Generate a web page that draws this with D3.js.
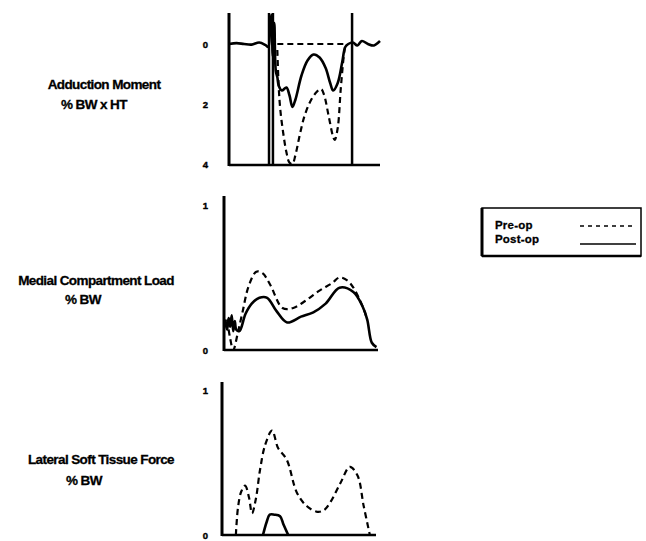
<!DOCTYPE html>
<html>
<head>
  <meta charset="utf-8">
  <script src="https://cdn.jsdelivr.net/npm/d3@7/dist/d3.min.js"></script>
  <style>
    body { margin: 0; background: #fff; }
    text { font-family: "Liberation Sans", Arial, sans-serif; font-weight: bold; fill: #000; }
  </style>
</head>
<body>
  <svg width="646" height="541" id="mainsvg"></svg>
  <script>
    // ---- data (x = % of stance) ----
    // adduction moment, % BW x HT (positive plotted downward)
    const momentPostX = [0, 5, 10, 15, 20, 24, 26, 27, 28, 29, 30, 31, 32, 33, 35, 38, 40, 42, 44, 48, 52, 56, 60, 64, 67, 69, 72, 75, 77, 79, 82, 85, 88, 92, 96, 100];
    const momentPostY = [0, -0.03, 0, 0.02, -0.05, 0.03, 0.1, -0.5, -0.97, 0.4, -0.7, 0.9, 1.1, 1.4, 1.55, 1.45, 1.7, 2.1, 1.85, 1.05, 0.55, 0.35, 0.45, 0.8, 1.3, 1.55, 1.3, 0.6, 0.1, 0.0, -0.05, 0.05, -0.1, 0.0, 0.05, -0.1];
    const momentPreX = [32, 33, 34, 36, 38, 40, 42, 44, 47, 50, 54, 58, 61, 63, 66, 69, 70, 72, 74, 76, 77];
    const momentPreY = [0.2, 1.5, 2.2, 3.0, 3.6, 3.95, 4.0, 3.7, 3.0, 2.4, 1.9, 1.6, 1.5, 1.7, 2.4, 3.1, 3.2, 2.8, 1.5, 0.4, 0.05];
    const momentPreZeroX = [32, 77];
    const momentPreZeroY = [0, 0];
    const momentEvents = [26.5, 29.1, 81.5];
    const momentTicks = [0, 2, 4];

    // medial compartment load, % BW
    const medialPostX = [0.6, 2, 3, 4, 5, 6, 7, 8, 10, 14, 18, 23, 28, 34, 41, 50, 58, 66, 75, 84, 90, 93, 96, 99];
    const medialPostY = [0.21, 0.14, 0.22, 0.16, 0.24, 0.13, 0.2, 0.14, 0.13, 0.25, 0.32, 0.36, 0.36, 0.27, 0.19, 0.23, 0.26, 0.32, 0.43, 0.40, 0.3, 0.21, 0.05, 0.02];
    const medialPreX = [2, 4, 6, 9, 12, 16, 21, 25, 30, 38, 45, 53, 62, 70, 75, 80, 84, 90, 93];
    const medialPreY = [0.21, 0.08, 0.0, 0.12, 0.26, 0.44, 0.54, 0.53, 0.45, 0.29, 0.29, 0.34, 0.41, 0.46, 0.5, 0.48, 0.43, 0.3, 0.21];
    const medialTicks = [0, 1];

    // lateral soft tissue force, % BW
    const lateralPostX = [26.6, 29, 31, 34, 37.7, 40, 43];
    const lateralPostY = [0, 0.09, 0.14, 0.14, 0.13, 0.07, 0];
    const lateralPreX = [9, 10.4, 12.5, 15, 17.5, 19.5, 22, 24.7, 28, 32.5, 36.4, 42, 48.7, 55, 61.7, 66, 70, 77, 83, 88, 92, 96];
    const lateralPreY = [0, 0.19, 0.3, 0.34, 0.26, 0.15, 0.25, 0.45, 0.62, 0.72, 0.6, 0.52, 0.29, 0.2, 0.16, 0.17, 0.22, 0.36, 0.47, 0.41, 0.2, 0.0];
    const lateralTicks = [0, 1];

    const panelTitles = [
      ['Adduction Moment', '% BW x HT'],
      ['Medial Compartment Load', '% BW'],
      ['Lateral Soft Tissue Force', '% BW']
    ];
    const legendLabels = ['Pre-op', 'Post-op'];

    const zip = (xs, ys) => xs.map((x, i) => [x, ys[i]]);

    // ---- layout ----
    const panels = [
      {x0: 229, x1: 380, yTop: 13, yBase: 165, domain: [0, 4], range: [44, 164], ticks: momentTicks,
       post: zip(momentPostX, momentPostY), pre: zip(momentPreX, momentPreY),
       preZero: zip(momentPreZeroX, momentPreZeroY), events: momentEvents,
       title: panelTitles[0], titleX: 104, titleY: 89, unitX: 94, unitY: 109},
      {x0: 224, x1: 378, yTop: 196, yBase: 350, domain: [0, 1], range: [350, 205], ticks: medialTicks,
       post: zip(medialPostX, medialPostY), pre: zip(medialPreX, medialPreY),
       title: panelTitles[1], titleX: 96, titleY: 285, unitX: 83, unitY: 304},
      {x0: 222, x1: 376, yTop: 382, yBase: 535, domain: [0, 1], range: [535, 390], ticks: lateralTicks,
       post: zip(lateralPostX, lateralPostY), pre: zip(lateralPreX, lateralPreY),
       title: panelTitles[2], titleX: 101, titleY: 464, unitX: 84, unitY: 485}
    ];

    const svg = d3.select('svg');

    panels.forEach(p => {
      const x = d3.scaleLinear().domain([0, 100]).range([p.x0, p.x1]);
      const y = d3.scaleLinear().domain(p.domain).range(p.range);
      const g = svg.append('g');

      const line = d3.line().x(d => x(d[0])).y(d => y(d[1])).curve(d3.curveCatmullRom.alpha(0.5));

      // axes
      g.append('line').attr('x1', p.x0).attr('x2', p.x0).attr('y1', p.yTop).attr('y2', p.yBase + 1)
        .attr('stroke', '#000').attr('stroke-width', 3);
      g.append('line').attr('x1', p.x0).attr('x2', p.x1).attr('y1', p.yBase).attr('y2', p.yBase)
        .attr('stroke', '#000').attr('stroke-width', 2.5);

      const ax = g.append('g').attr('transform', `translate(${p.x0},0)`)
        .call(d3.axisLeft(y).tickValues(p.ticks).tickSize(0).tickPadding(p.x0 - 208).tickFormat(d3.format('d')));
      ax.select('.domain').remove();
      ax.selectAll('text').attr('font-size', 9.5).attr('font-family', '"Liberation Sans", Arial, sans-serif')
        .attr('font-weight', 'bold').attr('fill', '#000')
        .attr('stroke', '#000').attr('stroke-width', 0.4);

      if (p.events) {
        g.selectAll('.event').data(p.events).join('line')
          .attr('x1', d => x(d)).attr('x2', d => x(d))
          .attr('y1', p.yTop).attr('y2', p.yBase)
          .attr('stroke', '#000').attr('stroke-width', 2.5);
      }

      if (p.preZero) {
        g.append('path').attr('d', d3.line().x(d => x(d[0])).y(d => y(d[1]))(p.preZero))
          .attr('fill', 'none').attr('stroke', '#000').attr('stroke-width', 2).attr('stroke-dasharray', '6,4');
      }
      g.append('path').attr('d', line(p.pre))
        .attr('fill', 'none').attr('stroke', '#000').attr('stroke-width', 2.2).attr('stroke-dasharray', '6,4');
      g.append('path').attr('d', line(p.post))
        .attr('fill', 'none').attr('stroke', '#000').attr('stroke-width', 2.6).attr('stroke-linejoin', 'round');

      g.selectAll('.title').data(p.title).join('text')
        .attr('x', (d, i) => i ? p.unitX : p.titleX)
        .attr('y', (d, i) => i ? p.unitY : p.titleY)
        .attr('text-anchor', 'middle')
        .attr('font-size', 13.5).attr('letter-spacing', -0.6)
        .attr('stroke', '#000').attr('stroke-width', 0.3)
        .text(d => d);
    });

    // ---- legend ----
    const legend = svg.append('g');
    legend.append('rect').attr('x', 482).attr('y', 208).attr('width', 159).attr('height', 48)
      .attr('fill', '#fff').attr('stroke', '#000').attr('stroke-width', 1.5);
    legend.append('line').attr('x1', 482).attr('x2', 482).attr('y1', 208).attr('y2', 256)
      .attr('stroke', '#000').attr('stroke-width', 3);
    legend.append('line').attr('x1', 482).attr('x2', 641).attr('y1', 256).attr('y2', 256)
      .attr('stroke', '#000').attr('stroke-width', 2.5);
    legend.selectAll('.lab').data(legendLabels).join('text')
      .attr('x', 495).attr('y', (d, i) => 229 + i * 14)
      .attr('font-size', 11.5).attr('letter-spacing', 0.2)
      .attr('stroke', '#000').attr('stroke-width', 0.3)
      .text(d => d);
    legend.selectAll('.sw').data(legendLabels).join('line')
      .attr('x1', 580).attr('x2', 636)
      .attr('y1', (d, i) => 226 + i * 18).attr('y2', (d, i) => 226 + i * 18)
      .attr('stroke', '#000')
      .attr('stroke-width', 1.5)
      .attr('stroke-dasharray', (d, i) => i ? null : '4,4');
  </script>
</body>
</html>
